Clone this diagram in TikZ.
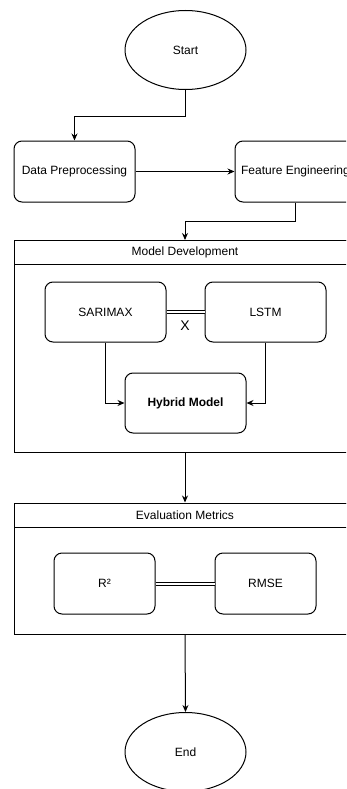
\documentclass[tikz,border=0pt]{standalone}
\usepackage{fontspec}
\setmainfont{Liberation Sans}
\usetikzlibrary{shapes.geometric,positioning,arrows.meta}

\begin{document}
\begin{tikzpicture}[x=1pt,y=-1pt,line width=1pt,
  every node/.style={font=\fontsize{12}{14}\selectfont},
  box/.style={rectangle,rounded corners=8pt,draw,minimum width=121pt,minimum height=61pt,inner sep=0pt},
  term/.style={ellipse,draw,minimum width=121pt,minimum height=79pt,inner sep=0pt},
  frame/.style={rectangle,draw,minimum width=342pt,inner sep=0pt},
  hdr/.style={rectangle,draw,minimum width=342pt,minimum height=24pt,inner sep=0pt},
  flow/.style={-{Stealth[length=7pt,width=6pt]}},
  link/.style={double,double distance=2pt}]
\useasboundingbox (0,0) rectangle (346,789);
\clip (0,0) rectangle (346,789);
\node (start) [term] at (185.5,50) {Start};
\node (prep) [box] at (74.5,171.5) {Data Preprocessing};
\node (feat) [box] at (295.5,171.5) {Feature Engineering};
% model development
\node (mdev) [frame,minimum height=212pt] at (185,346.5) {};
\node (mdevtitle) [hdr,anchor=north] at (mdev.north) {Model Development};
\node (sarimax) [box,minimum height=60pt] at (105.5,312) {SARIMAX};
\node (lstm) [box,minimum height=60pt] at (265.5,312) {LSTM};
\node (hybrid) [box,minimum height=60pt] at (185.5,403) {\textbf{Hybrid Model}};
\node (xmark) [font=\fontsize{14}{16}\selectfont] at (185,326) {X};
% evaluation
\node (emet) [frame,minimum height=131pt] at (185,568.5) {};
\node (emettitle) [hdr,anchor=north] at (emet.north) {Evaluation Metrics};
\node (rsq) [box,minimum width=101pt] at (104.5,583.5) {R²};
\node (rmse) [box,minimum width=101pt] at (265.5,583.5) {RMSE};
\node (end) [term] at (185.5,752) {End};

\draw [flow] (start.south) -- ++(0,26.5) -| (prep.north);
\draw [flow] (prep.east) -- (feat.west);
\draw [flow] (feat.south) -- ++(0,19) -| (mdev.north);
\draw [link] (sarimax.east) -- (lstm.west);
\draw [flow] (sarimax.south) |- (hybrid.west);
\draw [flow] (lstm.south) |- (hybrid.east);
\draw [flow] (mdev.south) -- (emet.north);
\draw [link] (rsq.east) -- (rmse.west);
\draw [flow] (emet.south) -- (end.north);
\end{tikzpicture}
\end{document}
